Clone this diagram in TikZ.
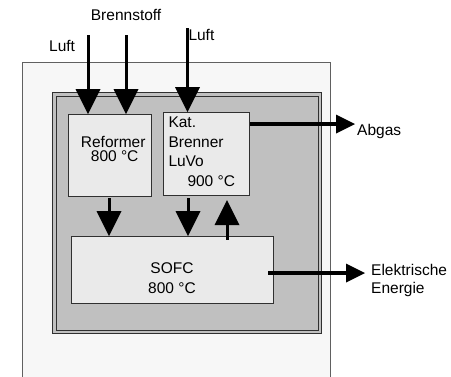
\documentclass[tikz,border=0pt]{standalone}
\usepackage{fontspec}
\setmainfont{Liberation Sans}
\usetikzlibrary{arrows.meta}
\definecolor{outerfill}{HTML}{F7F7F7}
\definecolor{outerline}{HTML}{606060}
\definecolor{graybox}{HTML}{C0C0C0}
\definecolor{boxfill}{HTML}{EAEAEA}
\definecolor{boxline}{HTML}{303030}
\begin{document}
\begin{tikzpicture}[x=1pt,y=-1pt,
  box/.style={draw=boxline, fill=boxfill, line width=1pt, inner sep=0pt, anchor=north west},
  lbl/.style={inner sep=0pt, anchor=base west, font=\fontsize{15.5}{17}\selectfont},
  clbl/.style={inner sep=0pt, anchor=base, font=\fontsize{15.5}{17}\selectfont},
  bigarrow/.style={line width=3pt, -{Triangle[length=25pt,width=25pt,line width=0pt]}},
  sidearrow/.style={line width=4pt, -{Triangle[length=19pt,width=19pt,line width=0pt]}}]
\clip (0,0) rectangle (451,376);
% frames
\draw[fill=outerfill, draw=outerline, line width=1pt] (22.7,62.3) rectangle (330.5,395);
\draw[fill=graybox, draw=boxline, line width=1pt] (52.7,92.7) rectangle (321.5,333.3);
\draw[draw=boxline, line width=1pt] (56,96) rectangle (318,330);
% boxes
\node[box, minimum width=82.4pt, minimum height=81.7pt] (ref) at (68.3,114) {};
\node[box, minimum width=86pt, minimum height=83pt] (kat) at (163,112) {};
\node[box, minimum width=202pt, minimum height=67pt] (sofc) at (71,236) {};
% box texts
\node[lbl] (reft1) at (80.7,147.3) {Reformer};
\node[lbl] (reft2) at (90.7,161.7) {800 °C};
\node[lbl] (katt1) at (168.3,127.7) {Kat.};
\node[lbl] (katt2) at (168.3,147) {Brenner};
\node[lbl] (katt3) at (168.3,166) {LuVo};
\node[lbl] (katt4) at (187.3,186.7) {900 °C};
\node[clbl] (sofct1) at (172,273.5) {SOFC};
\node[clbl] (sofct2) at (172,293) {800 °C};
% outside labels
\node[lbl] (brenn) at (90.7,20.7) {Brennstoff};
\node[lbl] (luft1) at (49,51.7) {Luft};
\node[lbl] (luft2) at (188.3,40.7) {Luft};
\node[lbl] (abgas) at (357,135) {Abgas};
\node[lbl] (elek) at (371,275) {Elektrische};
\node[lbl] (ener) at (371,293.5) {Energie};
% arrow coordinates
\coordinate (l1) at (88,35);
\coordinate (b1) at (126,35);
\coordinate (l2) at (187.5,28);
\coordinate (d1) at (109,198);
\coordinate (d2) at (188,198);
\coordinate (u1) at (227,239.5);
\coordinate (u2) at (227,200);
\coordinate (ab) at (355,124);
\coordinate (e0) at (268,273);
\coordinate (e1) at (365,273);
% arrows
\draw[bigarrow] (l1) -- (l1 |- ref.north);
\draw[bigarrow] (b1) -- (b1 |- ref.north);
\draw[bigarrow] (l2) -- (l2 |- kat.north);
\draw[bigarrow] (d1) -- (d1 |- sofc.north);
\draw[bigarrow] (d2) -- (d2 |- sofc.north);
\draw[bigarrow] (u1) -- (u2);
\draw[sidearrow] (kat.east |- ab) -- (ab);
\draw[sidearrow] (e0) -- (e1);
\end{tikzpicture}
\end{document}
